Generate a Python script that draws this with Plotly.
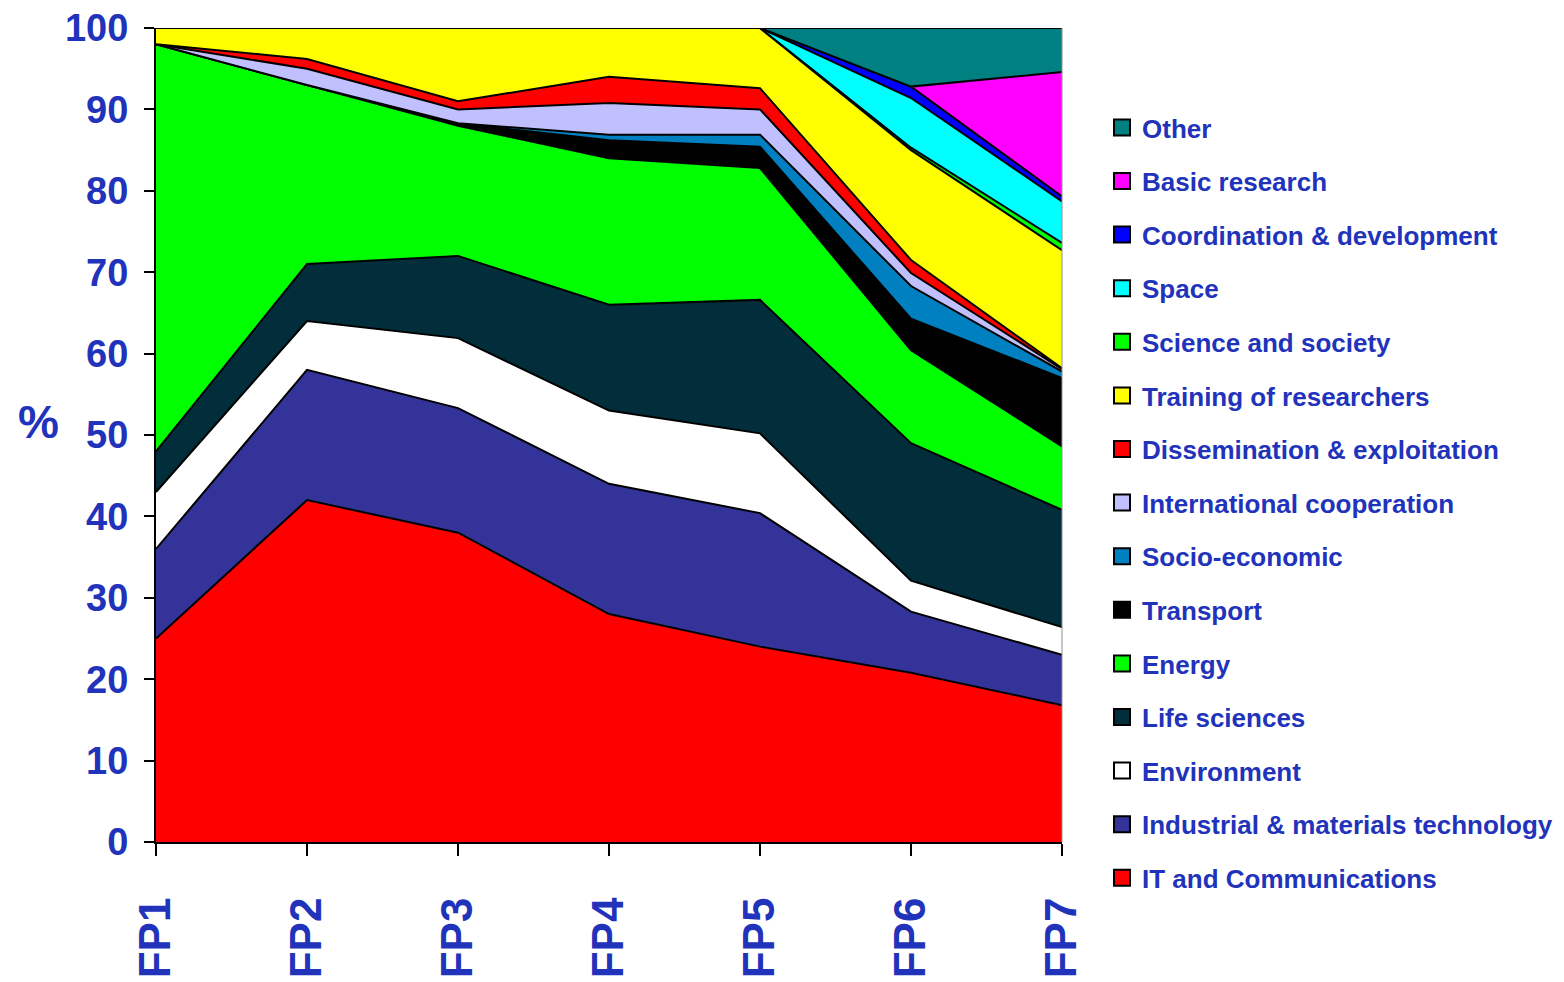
import plotly.graph_objects as go

periods = ["FP1", "FP2", "FP3", "FP4", "FP5", "FP6", "FP7"]

it_comm = [25, 42, 38, 28, 24, 20.8, 16.8]
industrial = [11, 16, 15.3, 16, 16.4, 7.5, 6.2]
environment = [7, 6, 8.6, 9, 9.8, 3.8, 3.4]
life_sciences = [5, 7, 10.1, 13, 16.4, 16.9, 14.4]
energy = [50, 22, 16, 18, 16.2, 11.4, 7.8]
transport = [0, 0, 0.3, 2.2, 2.6, 3.9, 8.4]
socio_economic = [0, 0, 0, 0.7, 1.5, 4.0, 0.8]
intl_coop = [0, 2, 1.7, 3.9, 3.1, 1.6, 0.3]
dissemination = [0, 1.2, 1, 3.2, 2.6, 1.6, 0.1]
training = [2, 3.8, 9, 6, 7.4, 13.5, 14.5]
science_society = [0, 0, 0, 0, 0, 0.3, 0.9]
space = [0, 0, 0, 0, 0, 6.1, 5.1]
coordination = [0, 0, 0, 0, 0, 1.4, 0.6]
basic_research = [0, 0, 0, 0, 0, 0, 15.3]
other = [0, 0, 0, 0, 0, 7.2, 5.4]

series = [
    ("IT and Communications", it_comm, "#FF0000"),
    ("Industrial & materials technology", industrial, "#333399"),
    ("Environment", environment, "#FFFFFF"),
    ("Life sciences", life_sciences, "#012E3A"),
    ("Energy", energy, "#00FF00"),
    ("Transport", transport, "#000000"),
    ("Socio-economic", socio_economic, "#0080C0"),
    ("International cooperation", intl_coop, "#C0C0FF"),
    ("Dissemination & exploitation", dissemination, "#FF0000"),
    ("Training of researchers", training, "#FFFF00"),
    ("Science and society", science_society, "#00FF00"),
    ("Space", space, "#00FFFF"),
    ("Coordination & development", coordination, "#0000FF"),
    ("Basic research", basic_research, "#FF00FF"),
    ("Other", other, "#008080"),
]

TXT = "#2233BB"
FONT = "Liberation Sans, Arial, sans-serif"

fig = go.Figure()
for name, vals, col in series:
    fig.add_trace(go.Scatter(
        x=periods, y=vals, name=name, mode="lines",
        stackgroup="one", fillcolor=col,
        line=dict(color="black", width=2),
        showlegend=False,
    ))

# legend entries (square swatches), top to bottom: Other ... IT
for i, (name, vals, col) in enumerate(reversed(series)):
    fig.add_trace(go.Scatter(
        x=[None], y=[None], name=name, mode="markers",
        marker=dict(symbol="square", size=17, color=col,
                    line=dict(color="black", width=2)),
        legendgroup="g%d" % i, showlegend=True,
    ))

fig.update_layout(
    width=1564, height=982,
    margin=dict(l=156, r=502, t=28, b=140),
    paper_bgcolor="white", plot_bgcolor="white",
    showlegend=True,
    legend=dict(
        traceorder="grouped", tracegroupgap=16.8,
        xref="container", yref="container",
        x=1102 / 1564, y=1 - 104 / 982, xanchor="left", yanchor="top",
        font=dict(family=FONT, size=26, color=TXT, weight="bold"),
        bgcolor="rgba(0,0,0,0)", itemwidth=30, maxheight=970,
    ),
    xaxis=dict(
        range=[0, 6], showgrid=False, zeroline=False, automargin=False,
        showline=True, linecolor="black", linewidth=2,
        ticks="outside", ticklen=12, tickwidth=1.5, tickcolor="black",
        tickangle=-90, ticklabelstandoff=24,
        tickfont=dict(family=FONT, size=44, color=TXT, weight="bold"),
    ),
    yaxis=dict(
        range=[0, 100], tickvals=list(range(0, 101, 10)),
        showgrid=False, zeroline=False, automargin=False,
        showline=True, linecolor="black", linewidth=2,
        ticks="outside", ticklen=10, tickwidth=1.5, tickcolor="black",
        ticklabelstandoff=8,
        tickfont=dict(family=FONT, size=38, color=TXT, weight="bold"),
    ),
    shapes=[dict(type="line", xref="paper", yref="paper", x0=1, x1=1, y0=0, y1=1,
                 line=dict(color="#909090", width=1))],
    annotations=[dict(
        text="%", xref="paper", yref="paper",
        x=(38 - 156) / 906, y=(842 - 422) / 814, showarrow=False,
        xanchor="center", yanchor="middle",
        font=dict(family=FONT, size=46, color=TXT, weight="bold"),
    )],
)

fig.write_html("out.html", config={"displayModeBar": False},
               post_script="document.body.style.margin='0';")
